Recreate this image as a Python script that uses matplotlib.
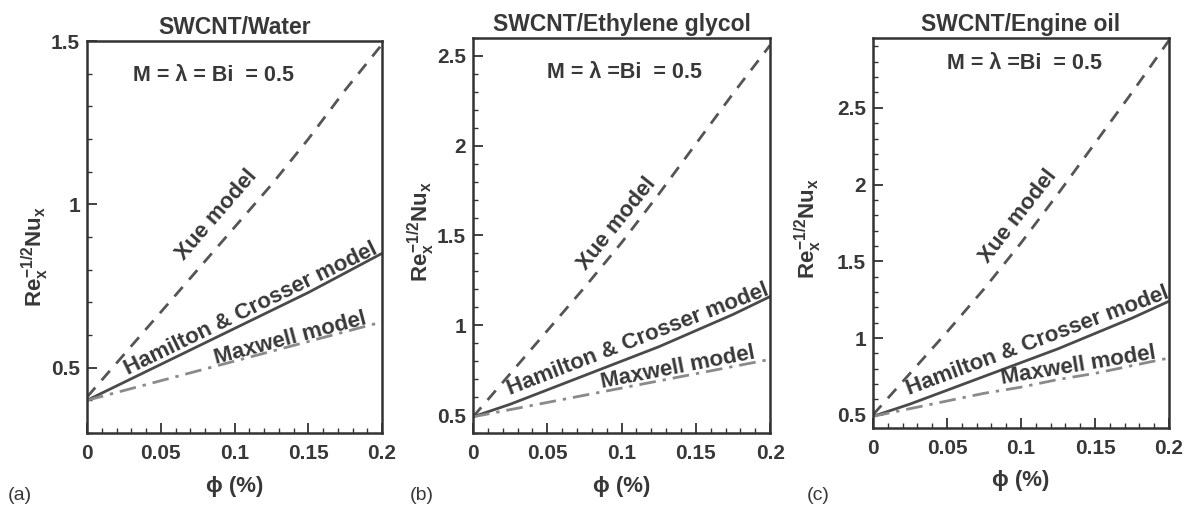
import numpy as np
import matplotlib
matplotlib.use("Agg")
import matplotlib.pyplot as plt
from matplotlib.ticker import MultipleLocator, FormatStrFormatter

# Nanoparticle volume fraction (%)
phi = [0.0, 0.025, 0.05, 0.075, 0.1, 0.125, 0.15, 0.175, 0.2]

# Local Nusselt number Re_x^{-1/2} Nu_x for each base fluid and conductivity model
water_xue = [0.41, 0.54, 0.67, 0.80, 0.93, 1.06, 1.20, 1.35, 1.49]
water_hc = [0.40, 0.455, 0.51, 0.565, 0.62, 0.675, 0.73, 0.79, 0.85]
water_maxwell = [0.40, 0.43, 0.46, 0.49, 0.52, 0.55, 0.58, 0.61, 0.64]

eg_xue = [0.49, 0.73, 0.97, 1.21, 1.46, 1.73, 2.01, 2.29, 2.56]
eg_hc = [0.49, 0.56, 0.64, 0.72, 0.80, 0.88, 0.97, 1.06, 1.16]
eg_maxwell = [0.49, 0.53, 0.57, 0.61, 0.65, 0.69, 0.73, 0.77, 0.81]

oil_xue = [0.50, 0.77, 1.04, 1.32, 1.62, 1.94, 2.27, 2.60, 2.94]
oil_hc = [0.49, 0.57, 0.66, 0.75, 0.84, 0.93, 1.03, 1.13, 1.24]
oil_maxwell = [0.49, 0.54, 0.59, 0.64, 0.68, 0.73, 0.77, 0.82, 0.87]

titles = ["SWCNT/Water", "SWCNT/Ethylene glycol", "SWCNT/Engine oil"]
panel_tags = ["(a)", "(b)", "(c)"]
param_texts = ["M = \u03bb = Bi  = 0.5", "M = \u03bb =Bi  = 0.5", "M = \u03bb =Bi  = 0.5"]
model_names = ["Xue model", "Hamilton & Crosser model", "Maxwell model"]
x_ticks = [0, 0.05, 0.1, 0.15, 0.2]

plt.rcParams["font.family"] = ["Liberation Sans", "DejaVu Sans"]
plt.rcParams["font.weight"] = "bold"
plt.rcParams["mathtext.fontset"] = "custom"
plt.rcParams["mathtext.rm"] = "Liberation Sans:bold"
plt.rcParams["mathtext.it"] = "Liberation Sans:bold"
plt.rcParams["mathtext.bf"] = "Liberation Sans:bold"

TXT = "#383838"
fig = plt.figure(figsize=(11.94, 5.13), dpi=100)

layout = [
    dict(rect=[0.0729, 0.156, 0.2471, 0.764], ylim=(0.30, 1.50),
         data=(water_xue, water_hc, water_maxwell),
         labels=[(0.088, 0.968), (0.111, 0.680), (0.138, 0.588)],
         param=(0.086, 1.394), tag_x=0.017, ylab=(-0.122, 0.45)),
    dict(rect=[0.3962, 0.156, 0.2488, 0.770], ylim=(0.40, 2.60),
         data=(eg_xue, eg_hc, eg_maxwell),
         labels=[(0.097, 1.565), (0.111, 0.920), (0.138, 0.763)],
         param=(0.102, 2.41), tag_x=0.353, ylab=(-0.120, 0.51)),
    dict(rect=[0.7312, 0.166, 0.2479, 0.760], ylim=(0.415, 2.955),
         data=(oil_xue, oil_hc, oil_maxwell),
         labels=[(0.098, 1.79), (0.111, 0.980), (0.139, 0.818)],
         param=(0.102, 2.786), tag_x=0.685, ylab=(-0.166, 0.51)),
]

styles = [
    dict(color="#555555", lw=2.0, ls=(0, (4.5, 3.5))),
    dict(color="#4a4a4a", lw=2.0, ls="-"),
    dict(color="#8a8a8a", lw=2.0, ls=(0, (6, 2.5, 1.2, 2.5))),
]

for i, spec in enumerate(layout):
    ax = fig.add_axes(spec["rect"])
    for series, st in zip(spec["data"], styles):
        ax.plot(phi, series, **st)
    ax.set_xlim(0, 0.2)
    ax.set_ylim(*spec["ylim"])

    ax.set_xticks(x_ticks)
    ax.xaxis.set_major_formatter(FormatStrFormatter("%g"))
    ax.xaxis.set_minor_locator(MultipleLocator(0.01))
    ax.yaxis.set_major_locator(MultipleLocator(0.5))
    ax.yaxis.set_minor_locator(MultipleLocator(0.1))
    ax.yaxis.set_major_formatter(FormatStrFormatter("%g"))
    ax.tick_params(which="both", direction="in", top=False, right=False,
                   colors="#333333", labelcolor=TXT, labelsize=15)
    ax.tick_params(axis="x", which="major", length=7, width=1.3, pad=8)
    ax.tick_params(axis="y", which="major", length=7, width=1.3, pad=5)
    ax.tick_params(which="minor", length=3.5, width=1.0)
    for lab in ax.get_xticklabels() + ax.get_yticklabels():
        lab.set_fontweight("bold")
    for sp in ax.spines.values():
        sp.set_linewidth(1.8)
        sp.set_color("#333333")

    ax.set_title(titles[i], fontsize=16.5, fontweight="bold", color=TXT, pad=5)
    ax.set_xlabel("\u03d5 (%)", fontsize=16, fontweight="bold", color=TXT, labelpad=9)
    ax.set_ylabel(r"$Re_x^{-1/2}Nu_x$", fontsize=16, color=TXT)
    ax.yaxis.set_label_coords(*spec["ylab"])

    ax.text(spec["param"][0], spec["param"][1], param_texts[i], fontsize=15.5,
            fontweight="bold", color=TXT, ha="center", va="center")

    # model labels laid along their curves
    for (lx, ly), name, series in zip(spec["labels"], model_names, spec["data"]):
        y0 = np.interp(lx - 0.01, phi, series)
        y1 = np.interp(lx + 0.01, phi, series)
        p0 = ax.transData.transform((lx - 0.01, y0))
        p1 = ax.transData.transform((lx + 0.01, y1))
        ang = np.degrees(np.arctan2(p1[1] - p0[1], p1[0] - p0[0]))
        ax.text(lx, ly, name, fontsize=16, fontweight="bold", color=TXT,
                rotation=ang, rotation_mode="anchor", ha="center", va="center")

    fig.text(spec["tag_x"], 0.035, panel_tags[i], fontsize=14, fontweight="normal",
             color=TXT, ha="center", va="center")

fig.savefig("out.png", dpi=100, facecolor="white")
